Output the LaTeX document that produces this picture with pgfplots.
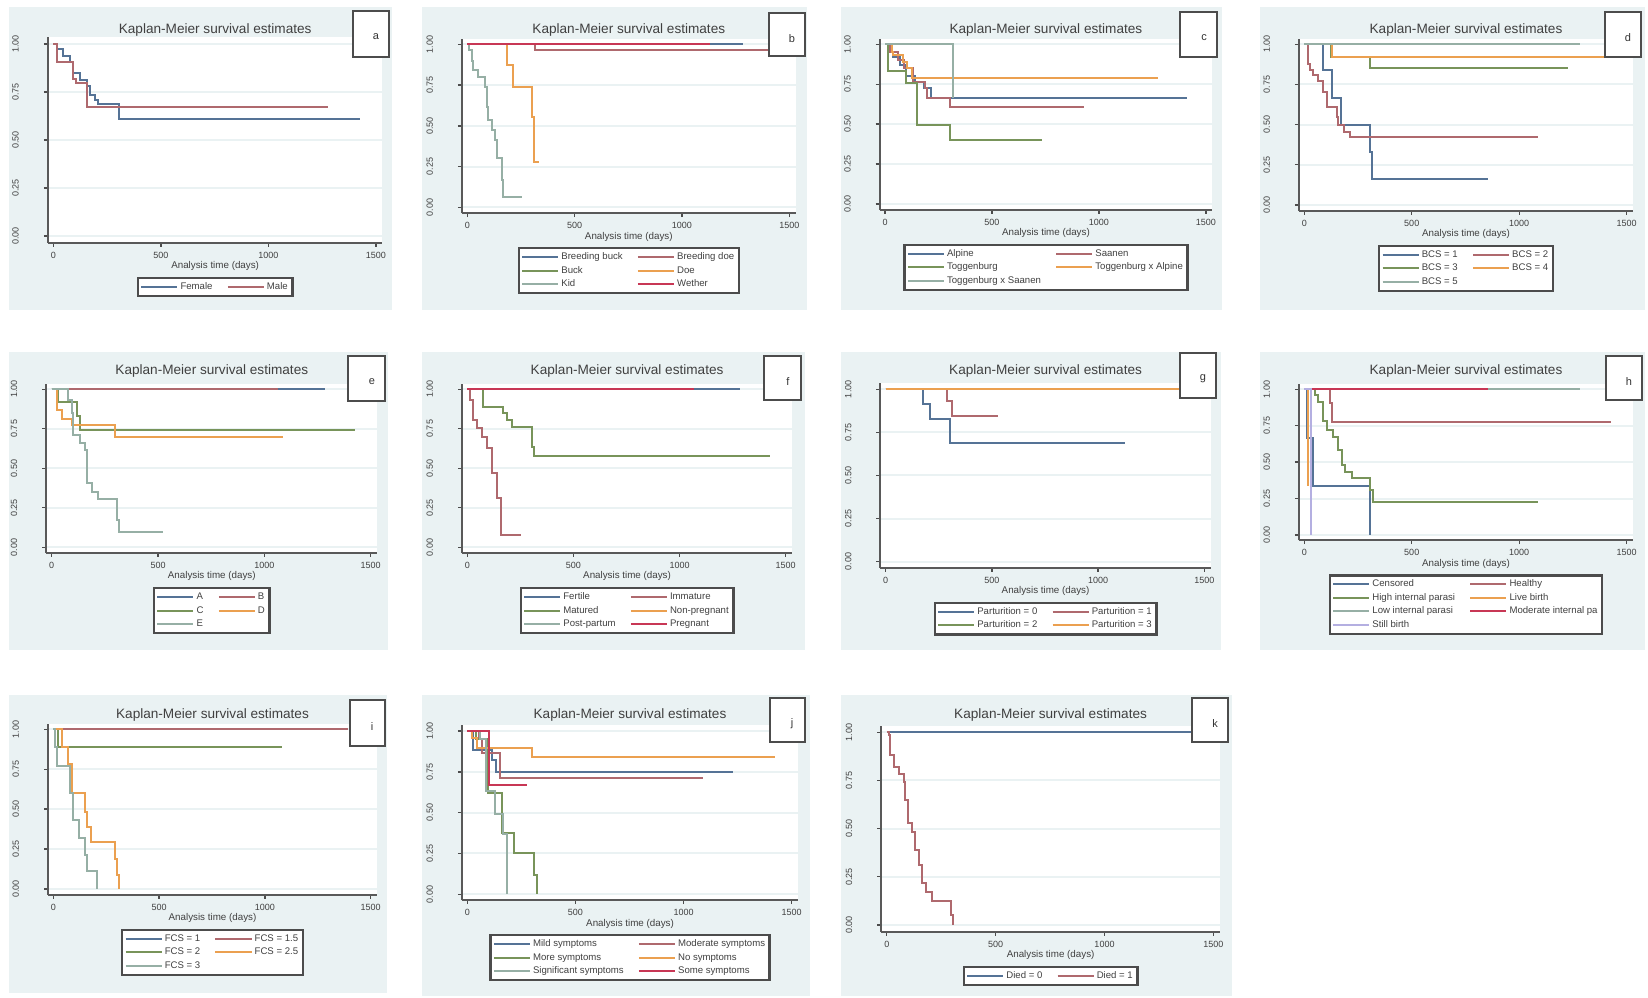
\documentclass[border=0pt]{standalone}
\usepackage{fontspec}
\setmainfont{Liberation Sans}
\usepackage{pgfplots}
\pgfplotsset{compat=1.18}
\definecolor{kmbg}{RGB}{234,242,243}
\definecolor{kmblue}{RGB}{85,115,150}
\definecolor{kmmaroon}{RGB}{175,105,110}
\definecolor{kmgreen}{RGB}{120,148,90}
\definecolor{kmorange}{RGB}{235,160,80}
\definecolor{kmteal}{RGB}{150,175,165}
\definecolor{kmcran}{RGB}{200,55,85}
\definecolor{kmlav}{RGB}{180,175,225}
\newcommand{\fs}[1]{\fontsize{#1}{#1}\selectfont}
\pgfplotsset{
  km/.style={
    scale only axis, anchor=south west,
    xmin=-25, xmax=1530, ymin=-0.035, ymax=1.035,
    axis x line*=bottom, axis y line*=left,
    axis line style={-, black!65, line width=1pt},
    xtick={0,500,1000,1500}, xticklabels={0,500,1000,1500},
    ytick={0,0.25,0.5,0.75,1}, yticklabels={0.00,0.25,0.50,0.75,1.00},
    tick align=outside, major tick length=2pt,
    major tick style={black!70, line width=0.7pt},
    ymajorgrids, grid style={kmbg, line width=1pt},
    axis background/.style={fill=white},
    ticklabel style={font=\fs{4.5}, text=black!75},
    yticklabel style={rotate=90, anchor=south},
    yticklabel shift=9pt,
    xticklabel shift=-0.8pt,
    xlabel={Analysis time (days)},
    xlabel style={at={(axis description cs:0.5,0)}, anchor=center, yshift=-11.8pt, font=\fs{4.9}, text=black!75},
    legend columns=2,
    legend cell align=left,
    legend style={at={(0.5,0)}, anchor=north, yshift=-17pt, draw=black!70, line width=1.2pt, fill=white, font=\fs{4.8}, text=black!75, inner sep=1.2pt, row sep=0pt,
       nodes={inner sep=1.1pt, text height=3.5pt, text depth=1pt},
       /tikz/every even column/.append style={column sep=6pt}},
    legend image code/.code={\draw[line width=1pt,#1] (0pt,0pt) -- (18pt,0pt);},
    every axis plot/.append style={const plot, line width=1pt},
  },
}
\begin{document}
\begin{tikzpicture}
\path[use as bounding box] (0pt,0pt) rectangle (824pt,-498.5pt);
\fill[white] (0pt,0pt) rectangle (824pt,-498.5pt);
\begin{scope}[x=0.5pt,y=-0.5pt]
\fill[kmbg] (9,7) rectangle (392,310);
\fill[kmbg] (422,7) rectangle (807,310);
\fill[kmbg] (841,7) rectangle (1222,310);
\fill[kmbg] (1260,7) rectangle (1645,310);
\fill[kmbg] (9,352) rectangle (388,650);
\fill[kmbg] (422,352) rectangle (805,650);
\fill[kmbg] (841,352) rectangle (1221,650);
\fill[kmbg] (1260,352) rectangle (1645,650);
\fill[kmbg] (9,695) rectangle (387,993);
\fill[kmbg] (422,695) rectangle (810,996);
\fill[kmbg] (841,695) rectangle (1232,996);
\foreach \x/\y in {215.2/29.5, 628.8/29.5, 1045.9/29.5, 1466/29.5, 211.8/371, 627.1/371, 1045.6/371, 1466/371, 212.5/714.5, 630/714.5, 1050.6/714.5}
  \node[font=\fs{6.8}, text=black!75] at (\x,\y) {Kaplan-Meier survival estimates};
\end{scope}

% a
\begin{axis}[km, at={(23.95pt,-121.35pt)}, width=167.25pt, height=102.7pt]
\addplot[kmblue] coordinates {(0,1)(18,0.972)(46,0.938)(77,0.905)(93,0.847)(124,0.812)(155,0.781)(170,0.734)(194,0.708)(209,0.688)(305,0.609)(1426,0.609)}; \addlegendentry{Female}
\addplot[kmmaroon] coordinates {(0,1)(19,0.908)(93,0.82)(105,0.795)(158,0.674)(1278,0.674)}; \addlegendentry{Male}
\end{axis}
% b
\begin{axis}[km, at={(230.95pt,-106.5pt)}, width=166.9pt, height=87.2pt]
\addplot[kmblue] coordinates {(0,1)(1286,1)}; \addlegendentry{Breeding buck}
\addplot[kmmaroon] coordinates {(0,1)(315,0.965)(1500,0.965)}; \addlegendentry{Breeding doe}
\addplot[kmgreen] coordinates {(0,1)(500,1)}; \addlegendentry{Buck}
\addplot[kmorange] coordinates {(0,1)(183,0.873)(214,0.74)(300,0.556)(312,0.28)(334,0.28)}; \addlegendentry{Doe}
\addplot[kmteal] coordinates {(0,1)(8,0.965)(20,0.90)(28,0.843)(51,0.797)(82,0.74)(90,0.618)(98,0.536)(113,0.474)(129,0.413)(137,0.30)(160,0.168)(168,0.065)(253,0.065)}; \addlegendentry{Kid}
\addplot[kmcran] coordinates {(0,1)(1130,1)}; \addlegendentry{Wether}
\end{axis}
% c
\begin{axis}[km, at={(439.85pt,-104.8pt)}, width=166.25pt, height=85.45pt]
\addplot[kmblue] coordinates {(0,1)(16,0.95)(39,0.92)(70,0.87)(100,0.80)(140,0.766)(180,0.724)(215,0.662)(1411,0.662)}; \addlegendentry{Alpine}
\addplot[kmmaroon] coordinates {(0,1)(25,0.95)(60,0.90)(90,0.85)(130,0.766)(187,0.724)(195,0.662)(304,0.605)(932,0.605)}; \addlegendentry{Saanen}
\addplot[kmgreen] coordinates {(0,1)(16,0.835)(97,0.756)(148,0.495)(304,0.40)(733,0.40)}; \addlegendentry{Toggenburg}
\addplot[kmorange] coordinates {(0,1)(31,0.954)(39,0.933)(86,0.89)(101,0.85)(125,0.787)(1278,0.787)}; \addlegendentry{Toggenburg x Alpine}
\addplot[kmteal] coordinates {(0,1)(320,0.667)(322,0.667)}; \addlegendentry{Toggenburg x Saanen}
\end{axis}
% d
\begin{axis}[km, at={(649.45pt,-105.3pt)}, width=167.1pt, height=86pt]
\addplot[kmblue] coordinates {(0,1)(88,0.842)(130,0.664)(171,0.496)(306,0.332)(316,0.162)(856,0.162)}; \addlegendentry{BCS = 1}
\addplot[kmmaroon] coordinates {(0,1)(19,0.88)(26,0.84)(42,0.81)(65,0.77)(88,0.70)(104,0.61)(150,0.55)(158,0.50)(186,0.456)(212,0.425)(1089,0.425)}; \addlegendentry{BCS = 2}
\addplot[kmgreen] coordinates {(0,1)(124,0.923)(306,0.85)(1228,0.85)}; \addlegendentry{BCS = 3}
\addplot[kmorange] coordinates {(0,1)(130,0.923)(1480,0.923)}; \addlegendentry{BCS = 4}
\addplot[kmteal] coordinates {(0,1)(1283,1)}; \addlegendentry{BCS = 5}
\end{axis}
% e
\begin{axis}[km, at={(23.2pt,-276.4pt)}, width=165.35pt, height=84.55pt]
\addplot[kmblue] coordinates {(0,1)(1285,1)}; \addlegendentry{A}
\addplot[kmmaroon] coordinates {(0,1)(1066,1)}; \addlegendentry{B}
\addplot[kmgreen] coordinates {(0,1)(31,0.922)(118,0.83)(133,0.743)(1426,0.743)}; \addlegendentry{C}
\addplot[kmorange] coordinates {(0,1)(24,0.87)(47,0.81)(94,0.774)(298,0.696)(1089,0.696)}; \addlegendentry{D}
\addplot[kmteal] coordinates {(0,1)(78,0.932)(94,0.848)(102,0.711)(133,0.658)(157,0.616)(168,0.405)(188,0.352)(219,0.304)(306,0.173)(318,0.099)(525,0.099)}; \addlegendentry{E}
\end{axis}
% f
\begin{axis}[km, at={(231pt,-276.4pt)}, width=165.05pt, height=84.55pt]
\addplot[kmblue] coordinates {(0,1)(1285,1)}; \addlegendentry{Fertile}
\addplot[kmmaroon] coordinates {(0,1)(13,0.93)(28,0.806)(44,0.753)(68,0.70)(91,0.627)(115,0.468)(138,0.31)(159,0.078)(253,0.078)}; \addlegendentry{Immature}
\addplot[kmgreen] coordinates {(0,1)(75,0.886)(170,0.848)(185,0.806)(209,0.76)(303,0.637)(316,0.578)(1426,0.578)}; \addlegendentry{Matured}
\addplot[kmorange] coordinates {(0,1)(940,1)}; \addlegendentry{Non-pregnant}
\addplot[kmteal] coordinates {(0,1)(90,1)}; \addlegendentry{Post-partum}
\addplot[kmcran] coordinates {(0,1)(1067,1)}; \addlegendentry{Pregnant}
\end{axis}
% g
\begin{axis}[km, at={(440.2pt,-283.85pt)}, width=165.15pt, height=92.25pt]
\addplot[kmblue] coordinates {(0,1)(177,0.915)(209,0.826)(303,0.687)(1127,0.687)}; \addlegendentry{Parturition = 0}
\addplot[kmmaroon] coordinates {(0,1)(287,0.932)(311,0.845)(527,0.845)}; \addlegendentry{Parturition = 1}
\addplot[kmgreen] coordinates {(0,1)(938,1)}; \addlegendentry{Parturition = 2}
\addplot[kmorange] coordinates {(0,1)(1500,1)}; \addlegendentry{Parturition = 3}
\end{axis}
% h
\begin{axis}[km, at={(649.45pt,-270.05pt)}, width=167.1pt, height=77.95pt]
\addplot[kmblue] coordinates {(0,1)(12,0.667)(42,0.336)(306,0)(306,0)}; \addlegendentry{Censored}
\addplot[kmmaroon] coordinates {(0,1)(119,0.904)(130,0.778)(1427,0.778)}; \addlegendentry{Healthy}
\addplot[kmgreen] coordinates {(0,1)(50,0.96)(65,0.915)(88,0.78)(104,0.72)(135,0.675)(155,0.584)(177,0.48)(189,0.43)(220,0.39)(306,0.31)(321,0.224)(1089,0.224)}; \addlegendentry{High internal parasi}
\addplot[kmorange] coordinates {(0,1)(19,0.336)(19,0.336)}; \addlegendentry{Live birth}
\addplot[kmteal] coordinates {(0,1)(1283,1)}; \addlegendentry{Low internal parasi}
\addplot[kmcran] coordinates {(0,1)(856,1)}; \addlegendentry{Moderate internal pa}
\addplot[kmlav] coordinates {(0,1)(31,0)(31,0)}; \addlegendentry{Still birth}
\end{axis}
% i
\begin{axis}[km, at={(24pt,-447.3pt)}, width=164.5pt, height=85.45pt]
\addplot[kmblue] coordinates {(0,1)(1284,1)}; \addlegendentry{FCS = 1}
\addplot[kmmaroon] coordinates {(0,1)(1394,1)}; \addlegendentry{FCS = 1.5}
\addplot[kmgreen] coordinates {(0,1)(24,0.89)(1079,0.89)}; \addlegendentry{FCS = 2}
\addplot[kmorange] coordinates {(0,1)(39,0.89)(71,0.78)(87,0.60)(150,0.484)(161,0.39)(176,0.296)(291,0.19)(302,0.088)(312,0)(312,0)}; \addlegendentry{FCS = 2.5}
\addplot[kmteal] coordinates {(0,1)(8,0.89)(19,0.772)(79,0.60)(91,0.432)(123,0.317)(150,0.213)(161,0.113)(208,0)(208,0)}; \addlegendentry{FCS = 3}
\end{axis}
% j
\begin{axis}[km, at={(230.95pt,-450pt)}, width=168.15pt, height=87.35pt]
\addplot[kmblue] coordinates {(0,1)(28,0.884)(112,0.822)(131,0.747)(1230,0.747)}; \addlegendentry{Mild symptoms}
\addplot[kmmaroon] coordinates {(0,1)(55,0.95)(66,0.863)(151,0.714)(1091,0.714)}; \addlegendentry{Moderate symptoms}
\addplot[kmgreen] coordinates {(0,1)(40,0.95)(94,0.618)(162,0.373)(217,0.251)(310,0.118)(322,0)(322,0)}; \addlegendentry{More symptoms}
\addplot[kmorange] coordinates {(0,1)(20,0.955)(43,0.898)(298,0.843)(1423,0.843)}; \addlegendentry{No symptoms}
\addplot[kmteal] coordinates {(0,1)(60,0.95)(88,0.63)(128,0.49)(165,0.37)(182,0)(182,0)}; \addlegendentry{Significant symptoms}
\addplot[kmcran] coordinates {(0,1)(100,0.67)(274,0.67)}; \addlegendentry{Some symptoms}
\end{axis}
% k
\begin{axis}[km, at={(440.65pt,-465.85pt)}, width=169.3pt, height=103.1pt]
\addplot[kmblue] coordinates {(0,1)(1440,1)}; \addlegendentry{Died = 0}
\addplot[kmmaroon] coordinates {(0,1)(8,0.985)(15,0.882)(31,0.822)(54,0.782)(77,0.744)(84,0.649)(96,0.528)(115,0.484)(130,0.389)(148,0.311)(164,0.216)(179,0.173)(210,0.125)(295,0.052)(305,0)(305,0)}; \addlegendentry{Died = 1}
\end{axis}

\begin{scope}[x=0.5pt,y=-0.5pt]
\foreach \xa/\ya/\xb/\yb/\l in {353/11/389/57/a, 769/13/805/56/b, 1180/12/1217/57/c, 1605/12/1641/57/d, 348/356/385/401/e, 764/356/801/400/f, 1180/353/1216/398/g, 1606/356/1642/400/h, 350/700/385/746/i, 770/698/805/742/j, 1192/698/1228/742/k}{
  \draw[black!70, line width=1.3pt, fill=white] (\xa,\ya) rectangle (\xb,\yb);
  \node[font=\fs{5.5}, text=black!80] at (\xb-13,\ya+26) {\l};
}
\end{scope}
\end{tikzpicture}
\end{document}
